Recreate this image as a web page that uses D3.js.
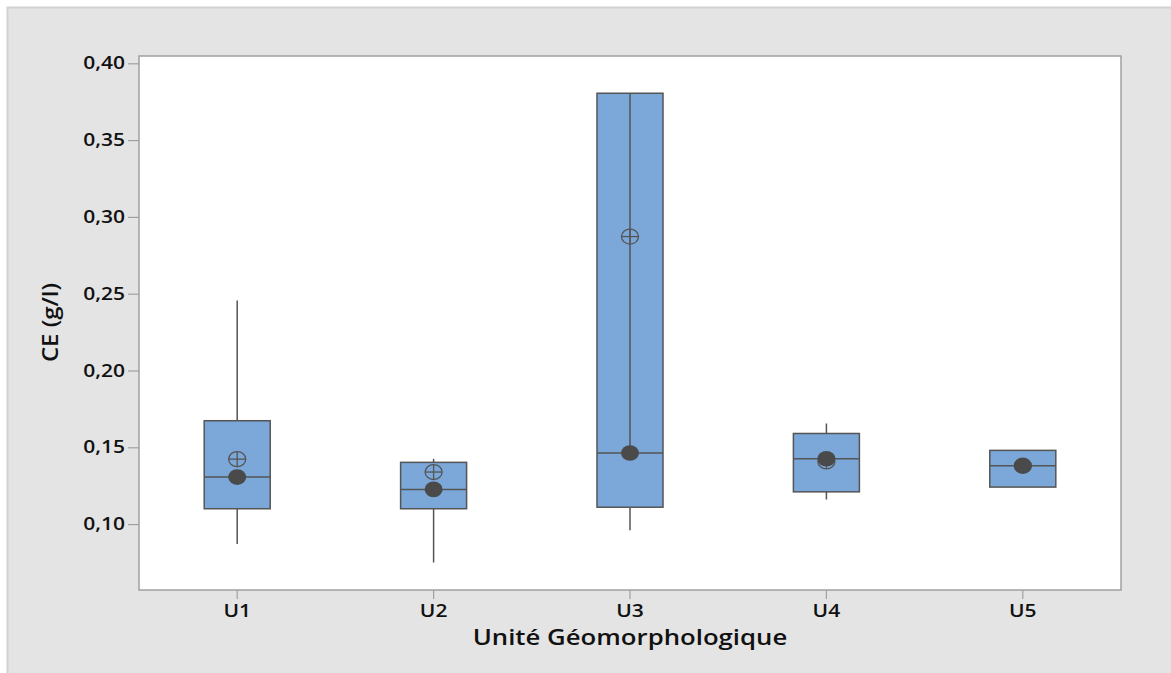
<!DOCTYPE html>
<html>
<head>
<meta charset="utf-8">
<script src="https://cdn.jsdelivr.net/npm/d3@7"></script>
<style>
  html, body { margin: 0; padding: 0; background: #ffffff; }
  svg { display: block; }
  text { font-family: "Open Sans", "Noto Sans", sans-serif; fill: #111; }
</style>
</head>
<body>
<svg id="chart" width="1171" height="673"></svg>
<script>
// ---- data ----
const categories = ["U1", "U2", "U3", "U4", "U5"];
const whiskerLow  = [0.087, 0.075, 0.096, 0.116, null];
const q1          = [0.110, 0.110, 0.111, 0.121, 0.1241];
const medians     = [0.1306, 0.1226, 0.1463, 0.1425, 0.138];
const q3          = [0.1673, 0.1402, 0.3805, 0.159, 0.148];
const whiskerHigh = [0.2455, 0.1425, null, 0.1655, null];
const means       = [0.1423, 0.1339, 0.2872, 0.1408, 0.138];
const yTicks      = [0.10, 0.15, 0.20, 0.25, 0.30, 0.35, 0.40];
const xTitle = "Unité Géomorphologique";
const yTitle = "CE (g/l)";

const svg = d3.select("#chart");
const W = 1171, H = 673;
const plot = { left: 139, top: 56, right: 1121, bottom: 590 };
const SX = 1.2; // horizontal stretch of the reference's lettering

// figure background
svg.append("rect").attr("x", 7.5).attr("y", 7.5).attr("width", W).attr("height", H)
  .attr("fill", "#e4e4e4").attr("stroke", "#d2d2d2").attr("stroke-width", 2);

const x = d3.scaleBand().domain(categories).range([plot.left, plot.right]).padding(0);
const y = d3.scaleLinear().domain([0.05710, 0.40475]).range([plot.bottom, plot.top]);

svg.append("rect").attr("x", plot.left).attr("y", plot.top)
  .attr("width", plot.right - plot.left).attr("height", plot.bottom - plot.top)
  .attr("fill", "#ffffff");

const fmt = d => d3.format(".2f")(d).replace(".", ",");

// axes
const yAxis = svg.append("g").attr("transform", `translate(${plot.left},0)`)
  .call(d3.axisLeft(y).tickValues(yTicks).tickFormat(fmt).tickSize(11).tickPadding(3));
const xAxis = svg.append("g").attr("transform", `translate(0,${plot.bottom})`)
  .call(d3.axisBottom(x).tickSize(9).tickPadding(6));
[yAxis, xAxis].forEach(g => {
  g.select(".domain").remove();
  g.selectAll(".tick line").attr("stroke", "#a0a0a0").attr("stroke-width", 1.2);
  g.selectAll(".tick text").attr("font-size", 17.5).attr("font-weight", 600)
    .attr("fill", "#111").attr("font-family", "'Open Sans', sans-serif");
});
yAxis.selectAll(".tick text").each(function () {
  const t = d3.select(this);
  const xv = +t.attr("x");
  t.attr("x", xv / SX).attr("transform", `scale(${SX},1)`);
});
xAxis.selectAll(".tick text").attr("transform", `scale(${SX},1)`);

// plot frame
svg.append("rect").attr("x", plot.left).attr("y", plot.top)
  .attr("width", plot.right - plot.left).attr("height", plot.bottom - plot.top)
  .attr("fill", "none").attr("stroke", "#a0a0a0").attr("stroke-width", 1.5);

const boxW = 66;
const stroke = "#555555";
const g = svg.append("g");
categories.forEach((c, i) => {
  const cx = x(c) + x.bandwidth() / 2;
  // whiskers
  if (whiskerLow[i] != null)
    g.append("line").attr("x1", cx).attr("x2", cx).attr("y1", y(q1[i])).attr("y2", y(whiskerLow[i]))
      .attr("stroke", stroke).attr("stroke-width", 1.5);
  if (whiskerHigh[i] != null)
    g.append("line").attr("x1", cx).attr("x2", cx).attr("y1", y(q3[i])).attr("y2", y(whiskerHigh[i]))
      .attr("stroke", stroke).attr("stroke-width", 1.5);
  // box
  g.append("rect").attr("x", cx - boxW / 2).attr("y", y(q3[i]))
    .attr("width", boxW).attr("height", y(q1[i]) - y(q3[i]))
    .attr("fill", "#7ba7d9").attr("stroke", stroke).attr("stroke-width", 1.5);
  // line inside box for U3 (top of box to median)
  if (whiskerHigh[i] == null && q3[i] - medians[i] > 0.1)
    g.append("line").attr("x1", cx).attr("x2", cx).attr("y1", y(q3[i])).attr("y2", y(medians[i]))
      .attr("stroke", stroke).attr("stroke-width", 1.5);
  // median line
  g.append("line").attr("x1", cx - boxW / 2).attr("x2", cx + boxW / 2)
    .attr("y1", y(medians[i])).attr("y2", y(medians[i]))
    .attr("stroke", stroke).attr("stroke-width", 1.5);
  // mean symbol (circle with cross)
  const my = y(means[i]);
  const mg = g.append("g");
  mg.append("ellipse").attr("cx", cx).attr("cy", my).attr("rx", 8.5).attr("ry", 7.5)
    .attr("fill", "none").attr("stroke", stroke).attr("stroke-width", 1.3);
  mg.append("line").attr("x1", cx - 8.5).attr("x2", cx + 8.5).attr("y1", my).attr("y2", my)
    .attr("stroke", stroke).attr("stroke-width", 1.3);
  mg.append("line").attr("x1", cx).attr("x2", cx).attr("y1", my - 7.5).attr("y2", my + 7.5)
    .attr("stroke", stroke).attr("stroke-width", 1.3);
  // median dot
  g.append("ellipse").attr("cx", cx).attr("cy", y(medians[i])).attr("rx", 9).attr("ry", 7.8)
    .attr("fill", "#4a4a4a");
});

// axis titles
const cxTitle = (plot.left + plot.right) / 2;
svg.append("text").attr("x", cxTitle / 1.17).attr("y", 645)
  .attr("transform", `scale(1.17,1)`)
  .attr("text-anchor", "middle").attr("font-size", 22).attr("font-weight", 600)
  .text(xTitle);
svg.append("text").attr("transform", `translate(58,322.5) rotate(-90) scale(1.14,1)`)
  .attr("text-anchor", "middle").attr("font-size", 21).attr("font-weight", 600)
  .text(yTitle);
</script>
</body>
</html>
